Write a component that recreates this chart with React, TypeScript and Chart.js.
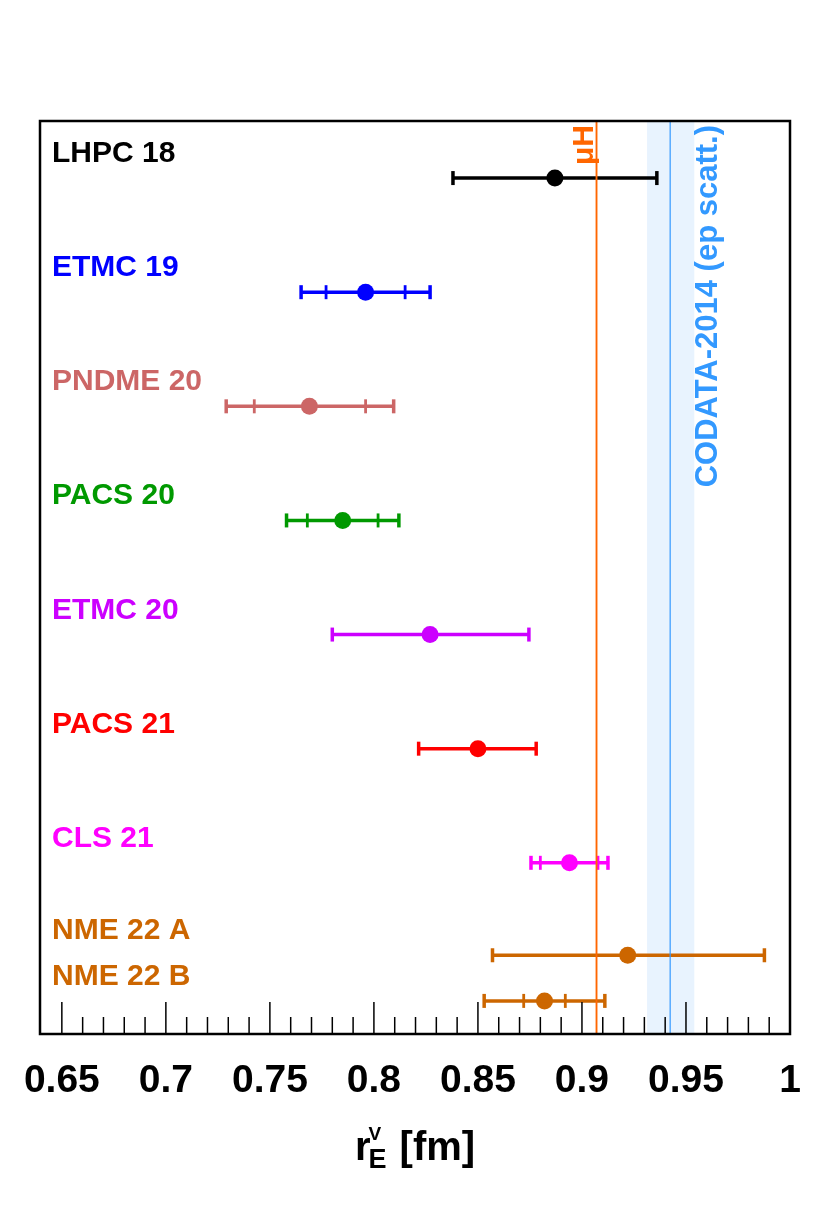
import { useEffect, useRef } from "react";
import Chart from "chart.js/auto";

// ─── Data ─────────────────────────────────────────────────────────────────────
const labels = ["LHPC 18", "ETMC 19", "PNDME 20", "PACS 20", "ETMC 20", "PACS 21", "CLS 21", "NME 22 A", "NME 22 B"];
const colors = ["#000000", "#0000FF", "#CC6666", "#009900", "#CC00FF", "#FF0000", "#FF00FF", "#CC6600", "#CC6600"];
const rows = [0.5, 1.5, 2.5, 3.5, 4.5, 5.5, 6.5, 7.31, 7.71];
const central = [0.887, 0.796, 0.769, 0.785, 0.827, 0.850, 0.894, 0.922, 0.882];
const outerLo = [0.838, 0.765, 0.729, 0.758, 0.780, 0.8215, 0.8755, 0.857, 0.853];
const outerHi = [0.936, 0.827, 0.8095, 0.812, 0.8745, 0.878, 0.9125, 0.9877, 0.911];
const innerLo = [null, 0.777, 0.7425, 0.768, null, null, 0.880, null, 0.872];
const innerHi = [null, 0.815, 0.796, 0.802, null, null, 0.9077, null, 0.892];

const muH = 0.907;
const codata = 0.9424;
const codataLo = 0.9313;
const codataHi = 0.954;

const xTicks = [0.65, 0.7, 0.75, 0.8, 0.85, 0.9, 0.95, 1.0];
const xMinorStep = 0.01;

const FONT = "'Liberation Sans', Arial, Helvetica, sans-serif";

// ─── Component ────────────────────────────────────────────────────────────────
export default function App() {
  const canvasRef = useRef<HTMLCanvasElement | null>(null);
  const chartRef = useRef<any>(null);

  useEffect(() => {
    if (!canvasRef.current) return;
    if (chartRef.current) chartRef.current.destroy();

    const datasets: any[] = [];
    labels.forEach((_, i) => {
      const c = colors[i];
      const y = rows[i];
      // total error
      datasets.push({
        type: "line",
        data: [{ x: outerLo[i], y }, { x: outerHi[i], y }],
        borderColor: c,
        borderWidth: 3.5,
        showLine: true,
        pointStyle: "line",
        pointRotation: 90,
        pointRadius: 7,
        pointBorderWidth: 3.5,
        pointBorderColor: c,
        pointHoverRadius: 7,
      });
      // statistical error marks
      if (innerLo[i] != null) {
        datasets.push({
          type: "scatter",
          data: [{ x: innerLo[i], y }, { x: innerHi[i], y }],
          showLine: false,
          pointStyle: "line",
          pointRotation: 90,
          pointRadius: 7,
          pointBorderWidth: 2.8,
          pointBorderColor: c,
          pointHoverRadius: 7,
        });
      }
      // central value
      datasets.push({
        type: "scatter",
        data: [{ x: central[i], y }],
        pointRadius: 8.5,
        pointHoverRadius: 8.5,
        pointBackgroundColor: c,
        pointBorderWidth: 0,
      });
    });

    const decor = {
      id: "decor",
      beforeDatasetsDraw(chart: any) {
        const { ctx, chartArea: a, scales } = chart;
        const x = scales.x;
        ctx.save();
        ctx.fillStyle = "#E8F3FE";
        const l = x.getPixelForValue(codataLo);
        const r = x.getPixelForValue(codataHi);
        ctx.fillRect(l, a.top, r - l, a.bottom - a.top);
        ctx.restore();
      },
      afterDatasetsDraw(chart: any) {
        const { ctx, chartArea: a, scales } = chart;
        const x = scales.x;
        const y = scales.y;
        ctx.save();

        // vertical reference lines
        const pm = x.getPixelForValue(muH);
        ctx.strokeStyle = "rgba(255,102,0,0.25)";
        ctx.lineWidth = 3;
        ctx.beginPath(); ctx.moveTo(pm, a.top); ctx.lineTo(pm, a.bottom); ctx.stroke();
        ctx.strokeStyle = "#FF6600";
        ctx.lineWidth = 1.5;
        ctx.beginPath(); ctx.moveTo(pm, a.top); ctx.lineTo(pm, a.bottom); ctx.stroke();

        const pc = x.getPixelForValue(codata);
        ctx.strokeStyle = "#3399FF";
        ctx.lineWidth = 1.2;
        ctx.beginPath(); ctx.moveTo(pc, a.top); ctx.lineTo(pc, a.bottom); ctx.stroke();

        // axis ticks inside the frame
        ctx.strokeStyle = "#000";
        ctx.lineWidth = 1.5;
        const nMinor = Math.round((xTicks[xTicks.length - 1] - xTicks[0]) / xMinorStep);
        for (let k = 0; k <= nMinor; k++) {
          const v = xTicks[0] + k * xMinorStep;
          const major = k % 5 === 0;
          const px = x.getPixelForValue(v);
          ctx.beginPath();
          ctx.moveTo(px, a.bottom);
          ctx.lineTo(px, a.bottom - (major ? 32 : 17));
          ctx.stroke();
        }

        // frame
        ctx.lineWidth = 2.5;
        ctx.strokeRect(a.left, a.top, a.right - a.left, a.bottom - a.top);

        // rotated texts
        ctx.textAlign = "right";
        ctx.textBaseline = "alphabetic";
        ctx.save();
        ctx.translate(pm - 4, a.top + 4);
        ctx.rotate(-Math.PI / 2);
        ctx.fillStyle = "#FF6600";
        ctx.font = `bold 30px ${FONT}`;
        ctx.fillText("\u03BCH", 0, 0);
        ctx.restore();

        ctx.save();
        ctx.translate(x.getPixelForValue(codataHi) + 23, a.top + 4);
        ctx.rotate(-Math.PI / 2);
        ctx.fillStyle = "#3399FF";
        ctx.font = `bold 31px ${FONT}`;
        ctx.fillText("CODATA-2014 (ep scatt.)", 0, 0);
        ctx.restore();

        // experiment labels
        ctx.textAlign = "left";
        ctx.font = `bold 30px ${FONT}`;
        labels.forEach((t, i) => {
          ctx.fillStyle = colors[i];
          ctx.fillText(t, a.left + 12, y.getPixelForValue(rows[i]) - 16);
        });

        // axis title r_E^V [fm]
        const base = 1160;
        ctx.fillStyle = "#000";
        const big = `bold 40px ${FONT}`;
        const sup = `bold 19px ${FONT}`;
        const sub = `bold 27px ${FONT}`;
        ctx.font = big;
        const wr = ctx.measureText("r").width;
        const wfm = ctx.measureText(" [fm]").width;
        ctx.font = sub;
        const wE = ctx.measureText("E").width;
        const total = wr + wE + wfm;
        let cx = (a.left + a.right) / 2 - total / 2;
        ctx.font = big;
        ctx.fillText("r", cx, base);
        cx += wr - 2;
        ctx.font = sup;
        ctx.fillText("V", cx, base - 20);
        ctx.font = sub;
        ctx.fillText("E", cx, base + 8);
        cx += wE + 2;
        ctx.font = big;
        ctx.fillText(" [fm]", cx, base);

        ctx.restore();
      },
    };

    chartRef.current = new Chart(canvasRef.current, {
      type: "scatter",
      data: { datasets },
      plugins: [decor],
      options: {
        animation: false,
        responsive: true,
        maintainAspectRatio: false,
        events: [],
        layout: { padding: { left: 40, right: 40, top: 121, bottom: 0 } },
        plugins: { legend: { display: false }, tooltip: { enabled: false } },
        scales: {
          x: {
            type: "linear",
            min: 0.6395,
            max: 1.0,
            afterBuildTicks: (s: any) => { s.ticks = xTicks.map((v) => ({ value: v })); },
            afterFit: (s: any) => { s.height = 183; },
            grid: { display: false },
            border: { display: false },
            ticks: {
              font: { family: FONT, size: 39, weight: "bold" },
              color: "#000",
              padding: 16,
              maxRotation: 0,
              autoSkip: false,
              callback: (v: any) => String(+Number(v).toFixed(2)),
            },
          },
          y: {
            type: "linear",
            min: 0,
            max: 8,
            reverse: true,
            display: false,
          },
        },
      } as any,
    });

    return () => { if (chartRef.current) chartRef.current.destroy(); };
  }, []);

  return (
    <>
      <style>{`body { margin: 0; background: #FFFFFF; }`}</style>
      <div style={{ position: "relative", width: 830, height: 1217 }}>
        <canvas ref={canvasRef} />
      </div>
    </>
  );
}
